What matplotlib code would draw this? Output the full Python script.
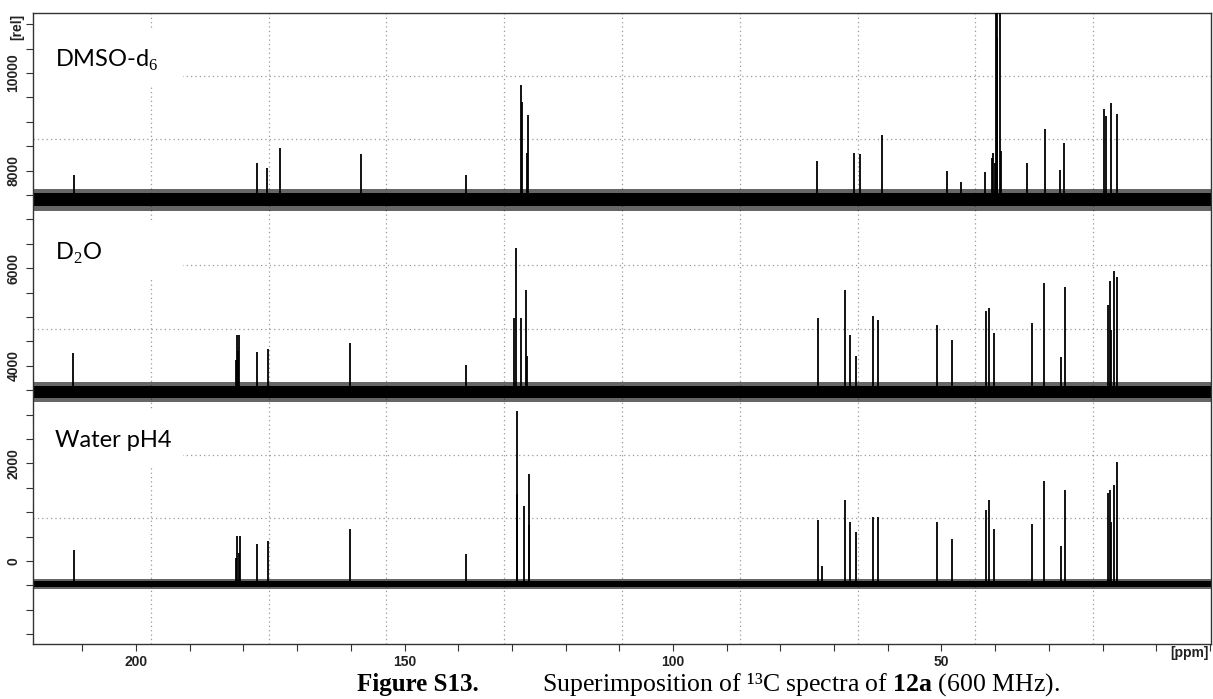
import matplotlib
matplotlib.use('Agg')
import matplotlib.pyplot as plt
from matplotlib.ticker import MultipleLocator, FixedLocator
from matplotlib.patches import Rectangle

# ---------------- data ----------------
labels = ["DMSO-d$_6$", "D$_2$O", "Water pH4"]
baselines = [7400, 3465, -470]          # baseline level of each trace
noise_half = [220, 205, 100]            # half width of the noise band

dmso_ppm = [211.5, 177.5, 175.6, 173.2, 158.1, 138.5, 128.3, 128.1, 127.2, 127.0,
            73.2, 66.3, 65.2, 61.1, 49.0, 46.4, 41.9, 40.6, 40.4, 40.0,
            39.8, 39.7, 39.6, 39.1, 38.9, 34.1, 30.7, 27.9, 27.2,
            19.7, 19.4, 18.4, 17.3]
dmso_int = [7910, 8156, 8054, 8465, 8340, 7910, 9750, 9400, 8360, 9140,
            8200, 8360, 8340, 8730, 7990, 7770, 7970, 8260, 8360, 8150,
            13000, 13000, 10740, 13000, 8400, 8156, 8850, 8010, 8566,
            9262, 9120, 9385, 9160]

d2o_ppm = [211.7, 181.4, 181.2, 181.0, 180.8, 177.5, 175.4, 160.1, 138.5,
           129.6, 129.2, 128.3, 127.4, 127.2,
           73.0, 68.0, 67.0, 66.0, 62.8, 61.8, 50.8, 48.0, 41.7, 41.1, 40.2,
           33.2, 30.9, 27.7, 27.0, 19.0, 18.6, 18.4, 17.8, 17.3]
d2o_int = [4263, 4120, 4632, 4300, 4632, 4283, 4345, 4470, 4020,
           4980, 6414, 4980, 5550, 4200,
           4980, 5550, 4632, 4200, 5021, 4939, 4836, 4529, 5123, 5185, 4673,
           4877, 5697, 4180, 5615, 5246, 5738, 4734, 5943, 5820]

water_ppm = [211.5, 181.4, 181.2, 180.9, 180.6, 177.5, 175.4, 160.1, 138.5,
             129.1, 129.0, 127.7, 126.9, 126.8,
             73.0, 72.3, 68.0, 67.0, 66.0, 62.8, 61.8, 50.8, 48.0, 41.7, 41.1, 40.2,
             33.2, 30.9, 27.7, 27.0, 19.0, 18.6, 18.4, 17.8, 17.3]
water_int = [226, 62, 512, 164, 512, 350, 410, 650, 150,
             3074, 1374, 1128, 1783, 740,
             850, -100, 1250, 800, 600, 900, 900, 800, 450, 1050, 1250, 650,
             750, 1650, 300, 1450, 1400, 1450, 800, 1550, 2030]

peaks_ppm = [dmso_ppm, d2o_ppm, water_ppm]
peaks_int = [dmso_int, d2o_int, water_int]

x_major = [200, 150, 100, 50]
y_major = [0, 2000, 4000, 6000, 8000, 10000]

# ---------------- figure ----------------
plt.rcParams['font.family'] = ['Liberation Sans', 'DejaVu Sans']
plt.rcParams['mathtext.fontset'] = 'custom'
plt.rcParams['mathtext.rm'] = 'Liberation Serif'
plt.rcParams['mathtext.bf'] = 'Liberation Serif:bold'

fig = plt.figure(figsize=(12.13, 6.99), dpi=100)
ax = fig.add_axes([33 / 1213, 55 / 699, 1178 / 1213, 631 / 699])

xlim = (219.2, -0.2)
ylim = (-1700, 11229)
ax.set_xlim(*xlim)
ax.set_ylim(*ylim)

# grid: 10 equal divisions, dotted
for k in range(1, 10):
    f = k / 10
    ax.plot([f, f], [0, 1], transform=ax.transAxes, ls=(0, (1, 2.5)),
            color='#9a9a9a', lw=0.9, zorder=0)
    ax.plot([0, 1], [f, f], transform=ax.transAxes, ls=(0, (1, 2.5)),
            color='#9a9a9a', lw=0.9, zorder=0)

# white label boxes that hide the grid behind the titles
box_y = [(0.883, 0.973), (0.580, 0.672), (0.2805, 0.371)]
for (y0, y1) in box_y:
    ax.add_patch(Rectangle((0, y0), 0.127, y1 - y0, transform=ax.transAxes,
                           facecolor='white', edgecolor='none', zorder=1))

# spectra
for base, nh, pp, ii in zip(baselines, noise_half, peaks_ppm, peaks_int):
    ax.fill_between(xlim, base - nh, base + nh, color='black', alpha=0.6,
                    lw=0, zorder=2)
    ax.fill_between(xlim, base - 0.6 * nh, base + 0.6 * nh, color='black',
                    lw=0, zorder=2)
    ax.vlines(pp, base, ii, color='black', lw=1.3, zorder=3)

# titles
title_y = [0.9144, 0.6086, 0.3122]
for lab, ty in zip(labels, title_y):
    ax.text(0.0187, ty, lab, transform=ax.transAxes, fontsize=17,
            family=['Lato', 'DejaVu Sans'], va='baseline', ha='left', zorder=4)

# ticks
ax.xaxis.set_major_locator(FixedLocator(x_major))
ax.xaxis.set_minor_locator(MultipleLocator(10))
ax.yaxis.set_major_locator(FixedLocator(y_major))
ax.yaxis.set_minor_locator(MultipleLocator(500))
ax.tick_params(axis='both', which='both', direction='out', length=5,
               width=0.8, color='#333333')
ax.tick_params(axis='x', which='major', pad=3, labelsize=10)
ax.tick_params(axis='y', which='major', pad=4, labelsize=10, labelrotation=90)
for lab in ax.get_xticklabels() + ax.get_yticklabels():
    lab.set_fontweight('bold')
    lab.set_color('#222222')
for lab in ax.get_yticklabels():
    lab.set_va('center')

for sp in ax.spines.values():
    sp.set_linewidth(1.0)
    sp.set_color('#333333')

fig.text(1209 / 1213, 1 - 653 / 699, '[ppm]', ha='right', va='center',
         fontsize=10, fontweight='bold', color='#222222')
fig.text(17 / 1213, 1 - 27 / 699, '[rel]', ha='center', va='center',
         rotation=90, fontsize=10, fontweight='bold', color='#222222')

# caption
fig.text(357 / 1213, 1 - 691 / 699, 'Figure S13.', ha='left', va='baseline',
         fontsize=18, fontweight='bold', family='Liberation Serif')
fig.text(542 / 1213, 1 - 691 / 699,
         'Superimposition of \u00b9\u00b3C spectra of $\\mathbf{12a}$ (600 MHz).',
         ha='left', va='baseline', fontsize=18.5, family='Liberation Serif')

fig.savefig('out.png', dpi=100)
